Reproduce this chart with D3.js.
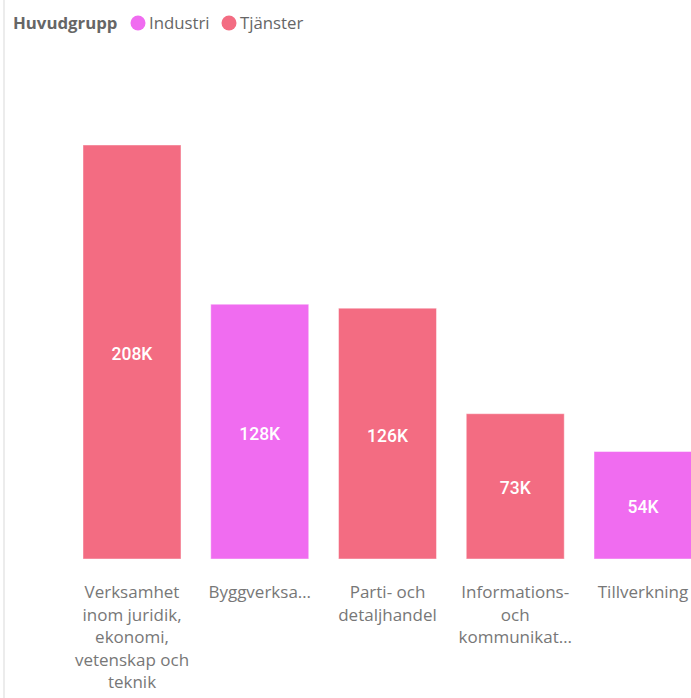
<!DOCTYPE html>
<html>
<head>
<meta charset="utf-8">
<script src="https://cdn.jsdelivr.net/npm/d3@7/dist/d3.min.js"></script>
<style>
  html, body { margin: 0; padding: 0; background: #fff; overflow: hidden; }
  svg { display: block; }
</style>
</head>
<body>
<svg id="chart" width="691" height="698"></svg>
<script>
// Employees per industry (thousands), grouped by main group
const categories = [
  "Verksamhet inom juridik, ekonomi, vetenskap och teknik",
  "Byggverksamhet",
  "Parti- och detaljhandel",
  "Informations- och kommunikationsverksamhet",
  "Tillverkning"
];
const values = [208, 128, 126, 73, 54];
const groups = ["Tjänster", "Industri", "Tjänster", "Tjänster", "Industri"];
const tickLabels = [
  ["Verksamhet", "inom juridik,", "ekonomi,", "vetenskap och", "teknik"],
  ["Byggverksa\u2026"],
  ["Parti- och", "detaljhandel"],
  ["Informations-", "och", "kommunikat\u2026"],
  ["Tillverkning"]
];
const legendTitle = "Huvudgrupp";
const legendGroups = ["Industri", "Tjänster"];
const groupColors = ["#F06CF0", "#F36C82"];

const svg = d3.select("#chart");
const W = 691, H = 698;

const color = d3.scaleOrdinal().domain(legendGroups).range(groupColors);

const x = d3.scaleBand()
  .domain(categories)
  .range([83, 692])
  .paddingInner(0.233)
  .paddingOuter(0);

const y = d3.scaleLinear()
  .domain([0, d3.max(values)])
  .range([559, 145]);

// thin frame line along the left edge
svg.append("rect")
  .attr("x", 3).attr("y", 0)
  .attr("width", 2).attr("height", H)
  .attr("fill", "#ececec");

const data = categories.map((c, i) => ({ c, v: values[i], g: groups[i], lines: tickLabels[i] }));

// bars
svg.append("g").selectAll("rect")
  .data(data)
  .join("rect")
  .attr("x", d => x(d.c))
  .attr("y", d => y(d.v))
  .attr("width", x.bandwidth())
  .attr("height", d => y(0) - y(d.v))
  .attr("fill", d => color(d.g))
  .attr("stroke", "rgba(255,255,255,0.45)")
  .attr("stroke-width", 1);

// value labels inside bars
svg.append("g").selectAll("text")
  .data(data)
  .join("text")
  .attr("x", d => x(d.c) + x.bandwidth() / 2)
  .attr("y", d => (y(d.v) + y(0)) / 2 + 8)
  .attr("text-anchor", "middle")
  .attr("fill", "#fff")
  .attr("font-family", "Roboto, 'DejaVu Sans', sans-serif")
  .attr("font-weight", 500)
  .attr("font-size", "17.5px")
  .text(d => d.v + "K");

// category axis labels (wrapped)
const axisG = svg.append("g");
data.forEach(d => {
  const t = axisG.append("text")
    .attr("x", x(d.c) + x.bandwidth() / 2)
    .attr("y", 598)
    .attr("text-anchor", "middle")
    .attr("fill", "#777")
    .attr("font-family", "'Open Sans', 'Segoe UI', sans-serif")
    .attr("font-size", "17px");
  d.lines.forEach((ln, j) => {
    t.append("tspan")
      .attr("x", x(d.c) + x.bandwidth() / 2)
      .attr("dy", j === 0 ? 0 : 22.6)
      .text(ln);
  });
});

// legend
const lg = svg.append("g");
lg.append("text")
  .attr("x", 13).attr("y", 29)
  .attr("fill", "#666")
  .attr("font-family", "'Open Sans', 'Segoe UI', sans-serif")
  .attr("font-weight", 700)
  .attr("font-size", "16.8px")
  .text(legendTitle);
const legendX = [138, 229];
legendGroups.forEach((g, i) => {
  lg.append("circle")
    .attr("cx", legendX[i]).attr("cy", 23).attr("r", 7.5)
    .attr("fill", color(g));
  lg.append("text")
    .attr("x", legendX[i] + 11).attr("y", 29)
    .attr("fill", "#666")
    .attr("font-family", "'Open Sans', 'Segoe UI', sans-serif")
    .attr("font-size", "16.8px")
    .text(g);
});
</script>
</body>
</html>
